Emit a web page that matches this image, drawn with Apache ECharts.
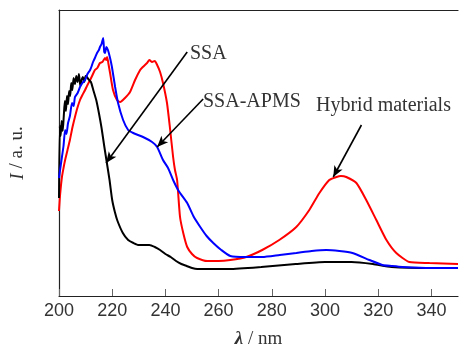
<!DOCTYPE html>
<html>
<head>
<meta charset="utf-8">
<script src="https://cdn.jsdelivr.net/npm/echarts@6/dist/echarts.min.js"></script>
<style>html,body{margin:0;padding:0;background:#fff;}#c{width:459px;height:345px;}</style>
</head>
<body>
<div id="c"></div>
<script>
// x-axis ticks
var xTicks = [200, 220, 240, 260, 280, 300, 320, 340];

// SSA (black)
var ssaX = [200, 200.3, 200.6, 201, 201.4, 201.8, 202.2, 202.6, 203, 203.4, 203.8, 204.2, 204.6, 205, 205.5, 206, 206.5, 207, 207.5, 208, 208.5, 209, 209.5, 210, 210.5, 211, 212, 213, 214, 215, 216, 217, 218, 219, 220, 221, 222, 224, 226, 228, 230, 232, 234, 236, 238, 240, 242, 244, 246, 248, 250, 252, 256, 264, 276, 289, 300, 310, 318, 325, 340, 350];
var ssaY = [98, 170, 160, 175, 165, 180, 195, 185, 200, 192, 205, 200, 213, 206, 218, 212, 220, 214, 222, 210, 216, 219, 214, 220, 219, 217, 214, 205, 196, 183, 168, 150, 133, 116, 96, 84, 75, 63, 56, 53, 51, 51, 51, 49, 46, 42, 39, 35, 32, 30, 28, 27, 27, 27, 29, 32, 34, 34, 32, 29, 28, 28];

// SSA-APMS (blue)
var apmsX = [200, 200.4, 201.1, 201.7, 202.3, 202.8, 203.4, 204.1, 204.9, 205.5, 206, 207, 207.9, 208.8, 209.8, 210.7, 211.7, 212.3, 212.8, 213.5, 214.3, 215, 215.4, 216, 216.6, 217, 217.3, 217.8, 218.4, 219.2, 219.9, 221.1, 222.2, 224.1, 226, 227.9, 231.6, 235, 236.9, 239.1, 241, 242.9, 245, 248.2, 250.5, 253.1, 255.5, 258, 261, 264.4, 270, 276.4, 283, 289.2, 295, 300.5, 305.4, 310.3, 316.7, 321.6, 325, 329.1, 340, 350];
var apmsY = [118, 126, 139, 150, 166, 162, 173, 180, 193, 190, 199, 203, 209, 213, 216, 222, 226, 230, 234, 238, 243, 246, 249, 252, 258, 244, 243, 249, 246, 238, 229, 209, 193, 176, 166, 163, 159, 154, 149, 136, 128, 116, 105, 93, 80, 69, 60, 53, 46, 40, 39, 39, 41, 43, 45, 46, 45, 43, 36, 31, 30, 29, 28, 28];

// Hybrid materials (red)
var hybX = [200, 200.4, 201.1, 201.7, 202.3, 203.2, 204.1, 205, 206, 206.9, 207.9, 208.8, 209.8, 210.7, 211.7, 212.6, 213.5, 214.4, 215.4, 216.3, 217.3, 217.7, 218.1, 218.6, 219.2, 220.3, 221.8, 223, 224.8, 226.7, 228.6, 230.5, 231.5, 233.1, 234, 235, 236, 236.9, 238, 239.1, 240.6, 241.8, 242.9, 243.6, 244.4, 245.5, 246.8, 248.2, 250, 251.9, 255.7, 260, 264.4, 270.4, 276.4, 282.8, 289.2, 294.1, 297.9, 301.6, 304.3, 306, 308, 311.8, 315.5, 319.3, 323.1, 326.8, 331.7, 339.3, 350];
var hybY = [85, 101, 119, 128, 136, 146, 156, 168, 179, 188, 196, 201, 206, 211, 216, 221, 226, 228, 233, 234, 238, 236, 239, 232, 223, 206, 196, 194, 198, 204, 216, 226, 229, 233, 236, 234, 235, 231, 224, 213, 193, 166, 139, 126, 116, 79, 62, 49, 42, 38, 35, 35, 36, 39, 46, 56, 69, 86, 103, 116, 119, 120, 119, 113, 96, 76, 56, 43, 34, 33, 32];

// annotation arrows [fromX, fromY, toX, toY] in data units
var ssaArrow = [248.2, 244, 217.7, 133];
var apmsArrow = [254.2, 197, 236.9, 149];
var hybArrow = [313.7, 171, 303.1, 119];

function pairs(xs, ys) { return xs.map(function (x, i) { return [x, ys[i]]; }); }
function arrow(a) {
  return {
    silent: true,
    symbol: ['none', 'arrow'],
    symbolSize: [7, 11],
    lineStyle: { color: '#000', width: 1.6, type: 'solid' },
    label: { show: false },
    data: [[{ coord: [a[0], a[1]] }, { coord: [a[2], a[3]] }]]
  };
}

var chart = echarts.init(document.getElementById('c'), null, { renderer: 'canvas' });
var labelFont = 'Liberation Sans';
var serif = 'Liberation Serif';
chart.setOption({
  animation: false,
  backgroundColor: '#fff',
  grid: { left: 59, right: 1, top: 10, bottom: 49, outerBoundsMode: 'none', containLabel: false },
  xAxis: [{
    type: 'value', min: 200, max: 350, interval: 20,
    axisLine: { show: true, lineStyle: { color: '#222', width: 1.2 } },
    axisTick: { show: true, inside: true, length: 7, lineStyle: { color: '#666', width: 1 } },
    axisLabel: { show: true, color: '#333', fontFamily: labelFont, fontSize: 18, margin: 6, showMaxLabel: false,
      formatter: function (v) { return xTicks.indexOf(v) >= 0 ? String(v) : ''; } },
    splitLine: { show: false },
    name: '{l|λ}{s| / nm}',
    nameLocation: 'middle', nameGap: 34,
    nameTextStyle: { rich: {
      l: { fontFamily: serif, fontSize: 19, fontWeight: 'bold', fontStyle: 'italic', color: '#333' },
      s: { fontFamily: serif, fontSize: 19, color: '#333' } } }
  }, {
    type: 'value', min: 200, max: 350, position: 'top',
    axisLine: { show: true, onZero: false, lineStyle: { color: '#222', width: 1.2 } },
    axisTick: { show: false }, axisLabel: { show: false }, splitLine: { show: false }
  }],
  yAxis: {
    type: 'value', min: 0, max: 286,
    axisLine: { show: true, lineStyle: { color: '#222', width: 1.2 } },
    axisTick: { show: false }, axisLabel: { show: false }, splitLine: { show: false },
    name: '{i|I}{s| / a. u.}',
    nameLocation: 'middle', nameGap: 32,
    nameTextStyle: { rich: {
      i: { fontFamily: serif, fontSize: 19, fontStyle: 'italic', color: '#333' },
      s: { fontFamily: serif, fontSize: 19, color: '#333' } } }
  },
  series: [
    { name: 'SSA', type: 'line', data: pairs(ssaX, ssaY), showSymbol: false, smooth: 0.2,
      lineStyle: { color: '#000', width: 2 }, z: 3, markLine: arrow(ssaArrow) },
    { name: 'SSA-APMS', type: 'line', data: pairs(apmsX, apmsY), showSymbol: false, smooth: 0.2,
      lineStyle: { color: '#0000ff', width: 2 }, z: 4, markLine: arrow(apmsArrow) },
    { name: 'Hybrid materials', type: 'line', data: pairs(hybX, hybY), showSymbol: false, smooth: 0.2,
      lineStyle: { color: '#ff0000', width: 2 }, z: 2, markLine: arrow(hybArrow) }
  ],
  graphic: [
    { type: 'text', left: 190, top: 44, style: { text: 'SSA', fontFamily: serif, fontSize: 20, fill: '#333' } },
    { type: 'text', left: 203, top: 92, style: { text: 'SSA-APMS', fontFamily: serif, fontSize: 20, fill: '#333' } },
    { type: 'text', left: 316, top: 96, style: { text: 'Hybrid materials', fontFamily: serif, fontSize: 20, fill: '#333' } }
  ]
});
</script>
</body>
</html>
